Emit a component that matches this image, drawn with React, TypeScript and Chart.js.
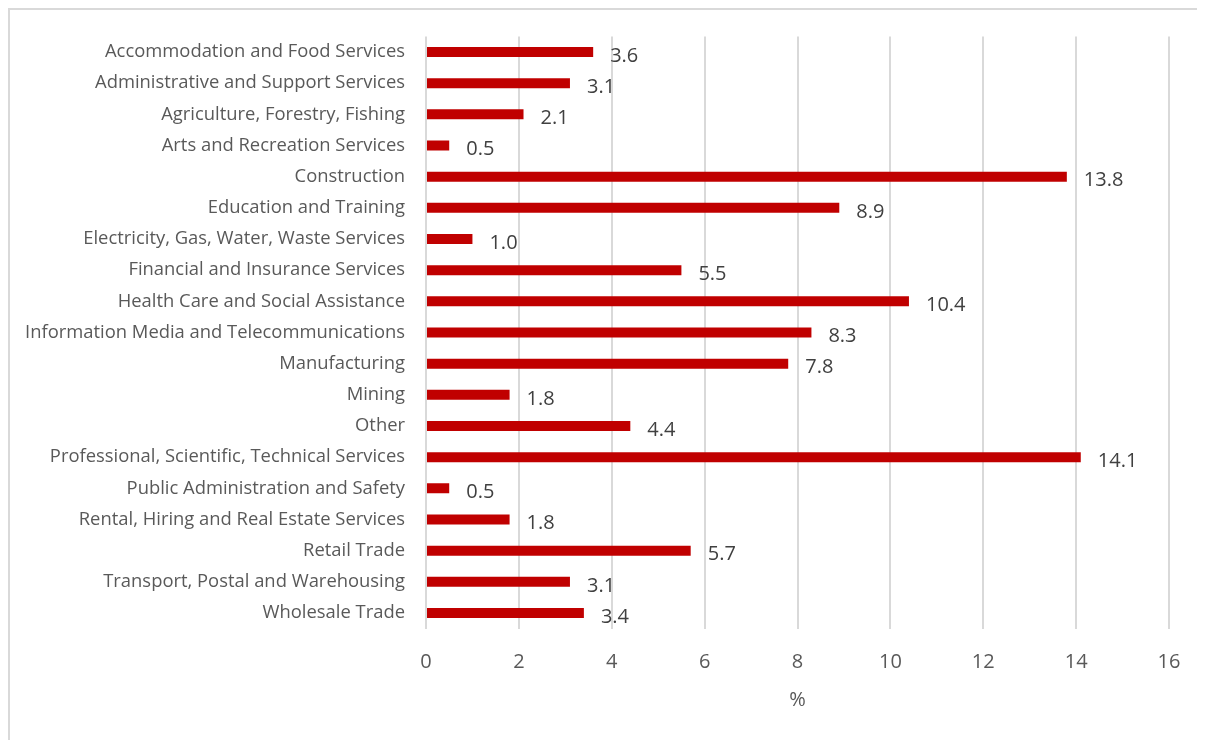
import React, { useEffect, useRef } from "react";
import { Chart, registerables } from "chart.js";

Chart.register(...registerables);

const categories: string[] = [
  "Accommodation and Food Services",
  "Administrative and Support Services",
  "Agriculture, Forestry, Fishing",
  "Arts and Recreation Services",
  "Construction",
  "Education and Training",
  "Electricity, Gas, Water, Waste Services",
  "Financial and Insurance Services",
  "Health Care and Social Assistance",
  "Information Media and Telecommunications",
  "Manufacturing",
  "Mining",
  "Other",
  "Professional, Scientific, Technical Services",
  "Public Administration and Safety",
  "Rental, Hiring and Real Estate Services",
  "Retail Trade",
  "Transport, Postal and Warehousing",
  "Wholesale Trade",
];

const shares: number[] = [
  3.6, 3.1, 2.1, 0.5, 13.8, 8.9, 1.0, 5.5, 10.4, 8.3, 7.8, 1.8, 4.4, 14.1, 0.5, 1.8, 5.7, 3.1, 3.4,
];

const xMin = 0;
const xMax = 16;
const xStep = 2;
const xTitle = "%";

const FONT = "'Open Sans', 'Noto Sans', sans-serif";

const valueLabels = {
  id: "valueLabels",
  afterDatasetsDraw(chart: any) {
    const ctx = chart.ctx;
    const meta = chart.getDatasetMeta(0);
    ctx.save();
    ctx.font = `20px ${FONT}`;
    ctx.fillStyle = "#404040";
    ctx.textAlign = "left";
    ctx.textBaseline = "middle";
    meta.data.forEach((bar: any, i: number) => {
      const v = chart.data.datasets[0].data[i] as number;
      ctx.fillText(v.toFixed(1), bar.x + 17, bar.y + 4);
    });
    ctx.restore();
  },
};

export default function App() {
  const ref = useRef<HTMLCanvasElement>(null);

  useEffect(() => {
    if (!ref.current) return;
    document.documentElement.style.overflow = "hidden";
    const H = 730;
    const chart = new Chart(ref.current, {
      type: "bar",
      data: {
        labels: categories,
        datasets: [
          {
            data: shares,
            backgroundColor: "#C00000",
            borderWidth: 0,
            barPercentage: 0.32,
            categoryPercentage: 1,
          },
        ],
      },
      options: {
        indexAxis: "y",
        responsive: false,
        animation: false,
        devicePixelRatio: 1,
        layout: { padding: { top: 26.4, right: 36, left: 0, bottom: 0 } },
        plugins: {
          legend: { display: false },
          tooltip: { enabled: false },
          title: { display: false },
        },
        scales: {
          x: {
            min: xMin,
            max: xMax,
            ticks: {
              stepSize: xStep,
              color: "#595959",
              font: { family: FONT, size: 20 },
              padding: 22,
            },
            grid: {
              color: "#d9d9d9",
              lineWidth: 2,
              drawTicks: false,
            },
            border: { display: false },
            title: {
              display: true,
              text: xTitle,
              color: "#595959",
              font: { family: FONT, size: 20 },
              padding: { top: 0, bottom: 28 },
            },
            afterFit(scale: any) {
              scale.height = H - 618.6;
            },
          },
          y: {
            ticks: {
              color: "#595959",
              font: { family: FONT, size: 18.4 },
              padding: 21,
              autoSkip: false,
            },
            grid: { display: false, drawTicks: false },
            border: { display: false },
            afterFit(scale: any) {
              scale.width = 416;
              scale.paddingTop = 0;
              scale.paddingBottom = 0;
            },
          },
        },
      },
      plugins: [valueLabels],
    });
    return () => chart.destroy();
  }, []);

  return (
    <div
      style={{
        width: 1210,
        height: 740,
        border: "2px solid #d9d9d9",
        background: "#ffffff",
      }}
    >
      <canvas ref={ref} width={1195} height={730} style={{ display: "block" }} />
    </div>
  );
}
